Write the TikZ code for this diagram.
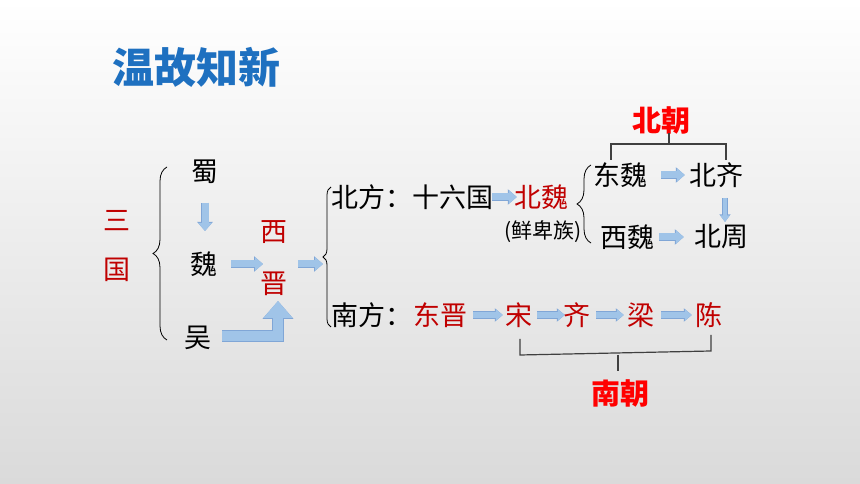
\documentclass[tikz,border=0pt]{standalone}
\usepackage{fontspec}
\setmainfont{Noto Sans CJK SC}
\usetikzlibrary{arrows.meta,decorations.pathreplacing,calc}
\definecolor{titleblue}{RGB}{30,112,192}
\definecolor{darkred}{RGB}{192,0,0}
\definecolor{brightred}{RGB}{255,0,0}
\definecolor{arrfill}{RGB}{160,196,232}
\definecolor{arrline}{RGB}{128,166,214}
\definecolor{brkgray}{RGB}{64,64,64}
\definecolor{bgbottom}{RGB}{218,218,218}
\tikzset{
  txt/.style={inner sep=0pt, font=\fontsize{27}{30}\selectfont, text=black},
  rtxt/.style={txt, text=darkred},
  lbl/.style={inner sep=0pt, font=\fontsize{29}{32}\selectfont\bfseries, text=brightred},
  arrA/.style={draw=arrfill, line width=7pt, -{Triangle[width=13pt,length=8pt]},
    preaction={draw=arrline, line width=8.2pt, -{Triangle[width=15pt,length=9pt]}}},
  arrB/.style={draw=arrfill, line width=6pt, -{Triangle[width=11pt,length=7pt]},
    preaction={draw=arrline, line width=7.2pt, -{Triangle[width=13pt,length=8pt]}}},
  arrC/.style={draw=arrfill, line width=4.5pt, -{Triangle[width=9pt,length=6.5pt]},
    preaction={draw=arrline, line width=5.5pt, -{Triangle[width=10.5pt,length=7.5pt]}}},
  arrD/.style={draw=arrfill, line width=10pt, line join=miter, -{Triangle[width=28pt,length=17pt]},
    preaction={draw=arrline, line width=11.2pt, line join=miter, -{Triangle[width=30pt,length=18pt]}}},
  bracestyle/.style={draw=black, line width=0.8pt, decorate},
  brk/.style={draw=brkgray, line width=1.2pt},
}
\begin{document}
\begin{tikzpicture}[x=1pt,y=1pt]
\useasboundingbox (0,0) rectangle (860,484);
\shade[top color=white, bottom color=bgbottom] (0,0) rectangle (860,484);

% title
\node[inner sep=0pt, font=\fontsize{42}{46}\selectfont\bfseries, text=titleblue] (title) at (196,417) {温故知新};

% left part
\node[rtxt] (san) at (117,263) {三};
\node[rtxt] (guo) at (117,214) {国};
\node[txt] (shu) at (205,312) {蜀};
\node[txt] (wei) at (204,220) {魏};
\node[txt] (wu) at (198,146) {吴};
\node[rtxt] (xi) at (274,252) {西};
\node[rtxt] (jin) at (274,200) {晋};
\coordinate (xj) at (274,220);
\draw[bracestyle, decoration={brace, amplitude=14pt}] (167,144) -- (167,317);

% second brace
\draw[bracestyle, decoration={brace, amplitude=8pt}] (331,157) -- (331,297);
\coordinate (b2tip) at (323,220);

% north
\node[txt, anchor=west] (beifang) at (331,287) {北方：十六国};
\node[rtxt] (beiwei) at (541,287) {北魏};
\node[inner sep=0pt, font=\fontsize{21}{24}\selectfont] (xianbei) at (543,252) {(鲜卑族)};
\draw[bracestyle, decoration={brace, amplitude=14pt}] (591,241) -- (591,319);
\node[txt] (dongwei) at (620,309) {东魏};
\node[txt] (beiqi) at (716,309) {北齐};
\node[txt] (xiwei) at (627,247) {西魏};
\node[txt] (beizhou) at (721,247) {北周};
\node[lbl] (beichao) at (661,364) {北朝};
\draw[brk] (611,324) |- (726,340) -- (726,324);
\draw[brk] (669,340) -- (669,351);

% south
\node[txt, anchor=west] (nanfang) at (331,169) {南方：};
\node[rtxt] (dongjin) at (440,169) {东晋};
\node[rtxt] (song) at (519,169) {宋};
\node[rtxt] (qi) at (577,169) {齐};
\node[rtxt] (liang) at (641,169) {梁};
\node[rtxt] (chen) at (709,169) {陈};
\node[lbl] (nanchao) at (620,91) {南朝};
\draw[brk] (520,145) -- (520,129) -- (711,133) -- (711,149);
\draw[brk] (618,129) -- (618,113);

% arrows
\draw[arrA, shorten <=31pt, shorten >=33pt] (shu.center) -- (shu.center |- wei.center);
\draw[arrA, shorten <=27pt, shorten >=11pt] (wei.center) -- (xj);
\draw[arrA, shorten <=24pt] (xj) -- (b2tip);
\draw[arrD, shorten <=24pt, shorten >=17pt] ($(wu.center)+(0,2)$) -| ($(jin.center)+(4,0)$);
\draw[arrA, shorten <=-1pt, shorten >=-3pt] (beifang.east) -- (beiwei.west);
\draw[arrA, shorten <=14pt, shorten >=4pt] (dongwei.east) -- (beiqi.west);
\draw[arrA, shorten <=5pt, shorten >=10pt] (xiwei.east) -- (beizhou.west);
\draw[arrC, shorten <=23pt, shorten >=15pt] ($(beiqi.center)+(9,0)$) -- ($(beiqi.center |- beizhou.center)+(9,0)$);
\draw[arrB, shorten <=6pt, shorten >=2.5pt] (dongjin.east) -- (song.west);
\draw[arrB, shorten <=4.5pt, shorten >=-1.5pt] (song.east) -- (qi.west);
\draw[arrB, shorten <=5.5pt, shorten >=3.5pt] (qi.east) -- (liang.west);
\draw[arrB, shorten <=6.5pt, shorten >=3.5pt] (liang.east) -- (chen.west);
\end{tikzpicture}
\end{document}
